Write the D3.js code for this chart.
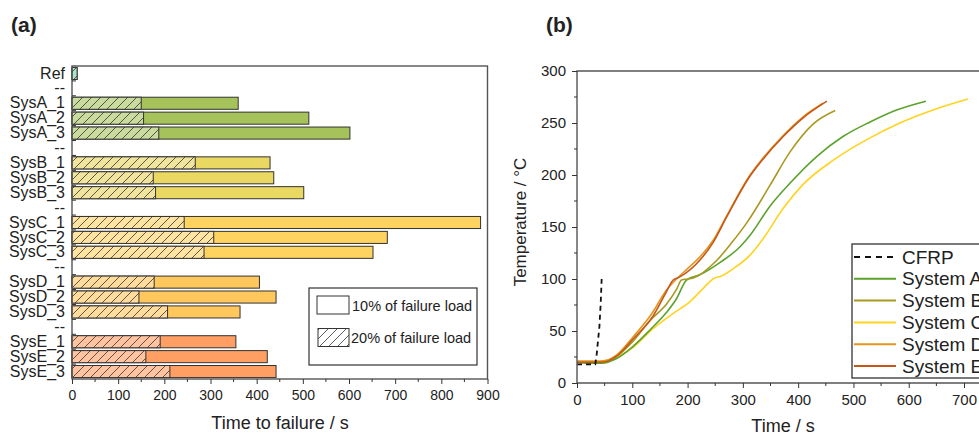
<!DOCTYPE html>
<html>
<head>
<meta charset="utf-8">
<script src="https://cdn.jsdelivr.net/npm/d3@7"></script>
<style>
  html, body { margin: 0; padding: 0; background: #fff; }
  svg { display: block; font-family: "Liberation Sans", Arial, sans-serif; }
</style>
</head>
<body>
<svg id="chart" width="979" height="437"></svg>
<script>
// ---------------- DATA ----------------
// Panel (a): time to failure (s)
const categories = ["Ref", "--", "SysA_1", "SysA_2", "SysA_3", "--", "SysB_1", "SysB_2", "SysB_3", "--",
  "SysC_1", "SysC_2", "SysC_3", "--", "SysD_1", "SysD_2", "SysD_3", "--", "SysE_1", "SysE_2", "SysE_3"];
const time10 = [11, null, 360, 513, 602, null, 429, 437, 502, null, 885, 683, 652, null, 406, 442, 364, null, 355, 423, 442];
const time20 = [11, null, 150, 155, 188, null, 267, 176, 181, null, 243, 307, 286, null, 178, 145, 207, null, 191, 160, 212];
const xTicksA = [0, 100, 200, 300, 400, 500, 600, 700, 800, 900];
const legendA = ["10% of failure load", "20% of failure load"];

// Panel (b): temperature curves [time s, temperature °C]
const seriesNames = ["CFRP", "System A", "System B", "System C", "System D", "System E"];
const cfrp = [[0, 18], [10, 18], [33, 18], [35.5, 27], [40.5, 54], [43, 78], [44.6, 100]];
const sysA = [[0, 20], [20, 19], [45, 19], [70, 23], [101, 35], [132, 51], [162, 68], [180, 81], [198, 99], [222, 104], [259, 116], [295, 131], [313, 142], [349, 170], [385, 192], [434, 218], [481, 237], [530, 251], [578, 262.5], [631, 271]];
const sysB = [[0, 20], [45, 20], [70, 25], [101, 40], [132, 60], [162, 76], [180, 90], [189, 99], [200, 100], [210, 101], [253, 118], [280, 135], [307, 154], [349, 190], [385, 222], [427, 249], [467, 262]];
const sysC = [[0, 20], [45, 20], [60, 22], [80, 27], [101, 34], [137, 52], [174, 67], [204, 78], [230, 92], [246, 100], [262, 103], [283, 110], [313, 123], [337, 139], [373, 168], [409, 191], [463, 214], [524, 234], [584, 250], [644, 262.5], [707, 273]];
const sysD = [[0, 21], [41, 21], [55, 22], [72, 27], [101, 44], [137, 68], [160, 88], [180, 100], [200, 110], [222, 121], [246, 137], [271, 161], [313, 200], [336, 216], [373, 238], [409, 256], [445, 269]];
const sysE = [[0, 20], [41, 20], [55, 21], [72, 26], [101, 42], [137, 64], [160, 86], [174, 99], [186, 102], [222, 118], [246, 135], [271, 160], [313, 199], [336, 215], [373, 237], [409, 255], [452, 271]];
const xTicksB = [0, 100, 200, 300, 400, 500, 600, 700, 800];
const yTicksB = [0, 50, 100, 150, 200, 250, 300];

// ---------------- STYLE ----------------
const solidColor = { Ref: "#72d4aa", SysA: "#a5c25b", SysB: "#e9d862", SysC: "#ffd35f", SysD: "#ffc75c", SysE: "#ff9f63" };
const hatchColor = { Ref: "#a8e5cb", SysA: "#c9dc9d", SysB: "#f1e49d", SysC: "#ffe3a0", SysD: "#ffdb9c", SysE: "#ffc3a0" };
const lineColor = ["#111", "#5ba22b", "#aa9820", "#ffd31e", "#e5951c", "#c4581b"];
const textColor = "#222";

const svg = d3.select("#chart");
svg.append("rect").attr("width", 979).attr("height", 437).attr("fill", "#fff");
const defs = svg.append("defs");

Object.keys(hatchColor).forEach(k => {
  const p = defs.append("pattern").attr("id", "hatch-" + k)
    .attr("patternUnits", "userSpaceOnUse").attr("width", 9).attr("height", 9);
  p.append("rect").attr("width", 9).attr("height", 9).attr("fill", hatchColor[k]);
  p.append("path").attr("d", "M0,9 L9,0 M-2,2 L2,-2 M7,11 L11,7")
    .attr("stroke", "#333").attr("stroke-width", 0.8);
});
// legend hatch (white background)
{
  const p = defs.append("pattern").attr("id", "hatch-white")
    .attr("patternUnits", "userSpaceOnUse").attr("width", 9).attr("height", 9);
  p.append("rect").attr("width", 9).attr("height", 9).attr("fill", "#fff");
  p.append("path").attr("d", "M0,9 L9,0 M-2,2 L2,-2 M7,11 L11,7")
    .attr("stroke", "#333").attr("stroke-width", 0.8);
}

const groupOf = c => c === "Ref" ? "Ref" : c.slice(0, 4);

// ---------------- PANEL (a) ----------------
const xA = d3.scaleLinear().domain([0, 900]).range([72, 487.5]);
const yA = d3.scaleBand().domain(d3.range(categories.length)).range([66, 379])
  .paddingInner(0.19).paddingOuter(0.095);

svg.append("text").attr("x", 11).attr("y", 32).attr("font-size", 21).attr("font-weight", "bold")
  .attr("fill", textColor).text("(a)");

const rowsA = d3.range(categories.length).filter(i => time10[i] !== null);

// 10% bars (solid)
svg.append("g").selectAll("rect").data(rowsA).join("rect")
  .attr("x", xA(0)).attr("y", i => yA(i))
  .attr("width", i => xA(time10[i]) - xA(0)).attr("height", yA.bandwidth())
  .attr("fill", i => solidColor[groupOf(categories[i])])
  .attr("stroke", "#333").attr("stroke-width", 1);
// 20% bars (hatched)
svg.append("g").selectAll("rect").data(rowsA).join("rect")
  .attr("x", xA(0)).attr("y", i => yA(i))
  .attr("width", i => xA(time20[i]) - xA(0)).attr("height", yA.bandwidth())
  .attr("fill", i => `url(#hatch-${groupOf(categories[i])})`)
  .attr("stroke", "#333").attr("stroke-width", 1);

// frame
svg.append("rect").attr("x", 72).attr("y", 66).attr("width", 487.5 - 72).attr("height", 379 - 66)
  .attr("fill", "none").attr("stroke", "#555").attr("stroke-width", 1.4);

// left axis labels
const axL = svg.append("g").attr("transform", "translate(72,0)")
  .call(d3.axisLeft(yA).tickSize(0).tickPadding(7).tickFormat(i => categories[i]));
axL.select(".domain").remove();
axL.selectAll("text").attr("font-size", 16).attr("fill", textColor)
  .attr("font-family", "'Liberation Sans', Arial, sans-serif");
// inner ticks at band boundaries
const step = yA.step();
svg.append("g").selectAll("line").data(d3.range(1, categories.length)).join("line")
  .attr("x1", 72).attr("x2", 76)
  .attr("y1", i => yA(i) - yA.paddingInner() * step / 2)
  .attr("y2", i => yA(i) - yA.paddingInner() * step / 2)
  .attr("stroke", "#333").attr("stroke-width", 1);

// bottom axis
const axB = svg.append("g").attr("transform", "translate(0,379)")
  .call(d3.axisBottom(xA).tickValues(xTicksA).tickSize(5).tickPadding(6));
axB.select(".domain").remove();
axB.selectAll("line").attr("stroke", "#333");
axB.selectAll("text").attr("font-size", 14).attr("fill", textColor)
  .attr("font-family", "'Liberation Sans', Arial, sans-serif");
svg.append("g").selectAll("line").data(xTicksA.slice(0, -1).map(v => v + 50)).join("line")
  .attr("x1", d => xA(d)).attr("x2", d => xA(d)).attr("y1", 379).attr("y2", 382)
  .attr("stroke", "#333");

svg.append("text").attr("x", 280).attr("y", 429).attr("text-anchor", "middle")
  .attr("font-size", 18).attr("fill", textColor).text("Time to failure / s");

// legend (a)
svg.append("rect").attr("x", 309).attr("y", 288).attr("width", 168).attr("height", 77)
  .attr("fill", "#fff").attr("stroke", "#333").attr("stroke-width", 1.2);
svg.append("rect").attr("x", 317).attr("y", 296).attr("width", 32).attr("height", 18)
  .attr("fill", "#fff").attr("stroke", "#333").attr("stroke-width", 1);
svg.append("rect").attr("x", 318).attr("y", 328.5).attr("width", 31).attr("height", 18)
  .attr("fill", "url(#hatch-white)").attr("stroke", "#333").attr("stroke-width", 1);
svg.append("text").attr("x", 352).attr("y", 311).attr("font-size", 14.5).attr("fill", textColor).text(legendA[0]);
svg.append("text").attr("x", 351).attr("y", 343).attr("font-size", 14.5).attr("fill", textColor).text(legendA[1]);

// ---------------- PANEL (b) ----------------
const xB = d3.scaleLinear().domain([0, 800]).range([577, 577 + 800 * 0.5529]);
const yB = d3.scaleLinear().domain([0, 300]).range([383, 71]);

svg.append("text").attr("x", 546).attr("y", 32).attr("font-size", 21).attr("font-weight", "bold")
  .attr("fill", textColor).text("(b)");

const line = d3.line().x(d => xB(d[0])).y(d => yB(d[1])).curve(d3.curveMonotoneX);
const allSeries = [cfrp, sysA, sysB, sysC, sysD, sysE];
// draw order: C, A, B, D, E, CFRP
[3, 1, 2, 4, 5, 0].forEach(k => {
  svg.append("path").datum(allSeries[k])
    .attr("d", k === 0 ? d3.line().x(d => xB(d[0])).y(d => yB(d[1]))(allSeries[k]) : line)
    .attr("fill", "none").attr("stroke", lineColor[k])
    .attr("stroke-width", k === 0 ? 1.8 : 1.6)
    .attr("stroke-dasharray", k === 0 ? "5,4" : null);
});

// frame lines
svg.append("path").attr("d", `M${xB(800)},71 H577 V383 H${xB(800)}`)
  .attr("fill", "none").attr("stroke", "#555").attr("stroke-width", 1.4);

const axBx = svg.append("g").attr("transform", "translate(0,383)")
  .call(d3.axisBottom(xB).tickValues(xTicksB).tickSize(5).tickPadding(6));
axBx.select(".domain").remove();
axBx.selectAll("line").attr("stroke", "#333");
axBx.selectAll("text").attr("font-size", 15).attr("fill", textColor)
  .attr("font-family", "'Liberation Sans', Arial, sans-serif");
svg.append("g").selectAll("line").data(xTicksB.slice(0, -1).map(v => v + 50)).join("line")
  .attr("x1", d => xB(d)).attr("x2", d => xB(d)).attr("y1", 383).attr("y2", 386)
  .attr("stroke", "#333");

const axBy = svg.append("g").attr("transform", "translate(577,0)")
  .call(d3.axisLeft(yB).tickValues(yTicksB).tickSize(5).tickPadding(6));
axBy.select(".domain").remove();
axBy.selectAll("line").attr("stroke", "#333");
axBy.selectAll("text").attr("font-size", 15).attr("fill", textColor)
  .attr("font-family", "'Liberation Sans', Arial, sans-serif");
svg.append("g").selectAll("line").data(yTicksB.slice(0, -1).map(v => v + 25)).join("line")
  .attr("x1", 574).attr("x2", 577).attr("y1", d => yB(d)).attr("y2", d => yB(d))
  .attr("stroke", "#333");

svg.append("text").attr("x", 783).attr("y", 432).attr("text-anchor", "middle")
  .attr("font-size", 18).attr("fill", textColor).text("Time / s");
svg.append("text").attr("transform", "translate(526,222) rotate(-90)").attr("text-anchor", "middle")
  .attr("font-size", 17).attr("fill", textColor).text("Temperature / °C");

// legend (b)
svg.append("rect").attr("x", 852).attr("y", 244).attr("width", 200).attr("height", 134)
  .attr("fill", "#fff").attr("stroke", "#333").attr("stroke-width", 1.3);
const legRowY = d3.scaleLinear().domain([0, 5]).range([257, 366]);
seriesNames.forEach((name, k) => {
  const yy = legRowY(k);
  svg.append("line").attr("x1", 854).attr("x2", 896).attr("y1", yy).attr("y2", yy)
    .attr("stroke", lineColor[k]).attr("stroke-width", k === 0 ? 1.8 : 2)
    .attr("stroke-dasharray", k === 0 ? "6,5" : null);
  svg.append("text").attr("x", 902).attr("y", yy + 6.5).attr("font-size", 19)
    .attr("fill", textColor).text(name);
});
</script>
</body>
</html>
